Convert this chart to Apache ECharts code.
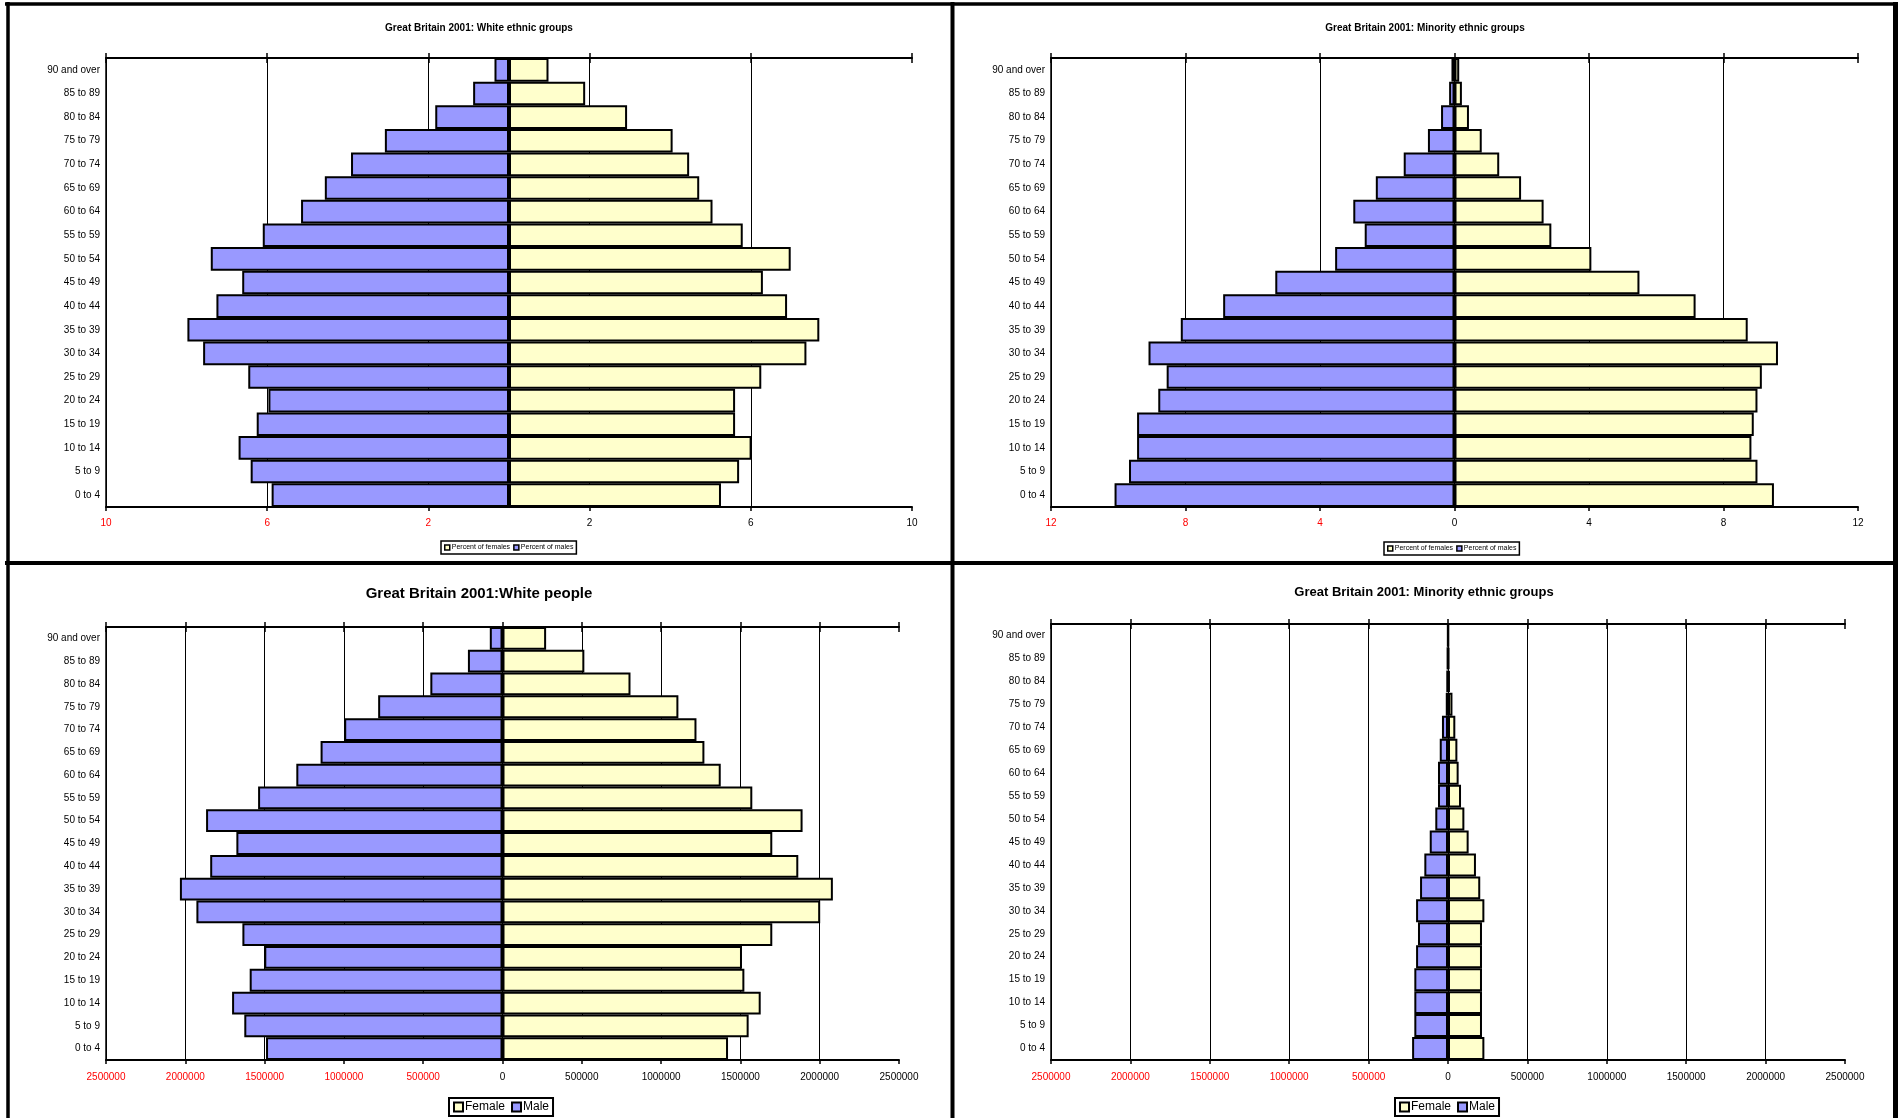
<!DOCTYPE html>
<html>
<head>
<meta charset="utf-8">
<title>Great Britain 2001: population pyramids</title>
<script src="https://cdn.jsdelivr.net/npm/echarts@6.0.0/dist/echarts.min.js"></script>
<style>
  html, body { margin: 0; padding: 0; background: #ffffff; }
  #main { width: 1898px; height: 1118px; }
</style>
</head>
<body>
<div id="main"></div>
<script>
// Age bands, youngest first (drawn bottom to top)
const ageGroups = ['0 to 4', '5 to 9', '10 to 14', '15 to 19', '20 to 24', '25 to 29',
  '30 to 34', '35 to 39', '40 to 44', '45 to 49', '50 to 54', '55 to 59', '60 to 64',
  '65 to 69', '70 to 74', '75 to 79', '80 to 84', '85 to 89', '90 and over'];

// White ethnic groups, percent of each sex
const whitePctMale   = [5.89, 6.41, 6.71, 6.26, 5.97, 6.47, 7.59, 7.98, 7.26, 6.62, 7.40, 6.11, 5.16, 4.57, 3.92, 3.08, 1.83, 0.89, 0.36];
const whitePctFemale = [5.26, 5.71, 6.02, 5.61, 5.61, 6.26, 7.38, 7.70, 6.90, 6.30, 6.99, 5.80, 5.05, 4.72, 4.47, 4.06, 2.93, 1.89, 0.98];

// Minority ethnic groups, percent of each sex
const minorityPctMale   = [10.11, 9.68, 9.44, 9.44, 8.81, 8.56, 9.10, 8.14, 6.88, 5.33, 3.55, 2.67, 3.01, 2.34, 1.51, 0.79, 0.40, 0.16, 0.09];
const minorityPctFemale = [9.50, 9.01, 8.83, 8.90, 9.01, 9.14, 9.62, 8.72, 7.17, 5.50, 4.07, 2.88, 2.65, 1.98, 1.33, 0.81, 0.43, 0.22, 0.14];

// White people, head counts
const whiteMale   = [1491000, 1628000, 1705000, 1594000, 1502000, 1640000, 1930000, 2034000, 1843000, 1678000, 1869000, 1541000, 1300000, 1147000, 998000, 784000, 455000, 218000, 80000];
const whiteFemale = [1422000, 1552000, 1628000, 1525000, 1510000, 1701000, 2003000, 2083000, 1865000, 1701000, 1892000, 1575000, 1376000, 1273000, 1223000, 1109000, 807000, 516000, 275000];

// Minority ethnic groups, head counts
const minorityMale   = [226000, 212000, 212000, 212000, 201000, 189000, 201000, 176000, 149000, 115000, 80000, 63000, 63000, 52000, 38000, 14000, 9000, 5000, 2000];
const minorityFemale = [229000, 214000, 214000, 214000, 214000, 214000, 229000, 203000, 176000, 130000, 103000, 82000, 67000, 59000, 46000, 28000, 12000, 7000, 4000];

// Axis scales: [min, max, interval]
const pctWhiteScale = [-10, 10, 4];
const pctMinorityScale = [-12, 12, 4];
const countScale = [-2500000, 2500000, 500000];

const FONT = "'Liberation Sans', Arial, Helvetica, sans-serif";
const MALE_FILL = '#9999FF';
const FEMALE_FILL = '#FFFFCC';

const panels = [
  {
    title: 'Great Britain 2001: White ethnic groups', tx: 479, ty: 23, tsize: 10,
    grid: { left: 106, top: 58, width: 806, height: 449 },
    scale: pctWhiteScale, male: whitePctMale, female: whitePctFemale,
    maleName: 'Percent of males', femaleName: 'Percent of females',
    labelMargin: 11,
    legend: { left: 441, top: 541, font: 7, icon: 5, gap: 3, pad: [3, 3], border: 1.5, iconBorder: 1.5 }
  },
  {
    title: 'Great Britain 2001: Minority ethnic groups', tx: 1425, ty: 23, tsize: 10,
    grid: { left: 1051, top: 58, width: 807, height: 449 },
    scale: pctMinorityScale, male: minorityPctMale, female: minorityPctFemale,
    maleName: 'Percent of males', femaleName: 'Percent of females',
    labelMargin: 11,
    legend: { left: 1384, top: 542, font: 7, icon: 5, gap: 3, pad: [3, 3], border: 1.5, iconBorder: 1.5 }
  },
  {
    title: 'Great Britain 2001:White people', tx: 479, ty: 586, tsize: 15,
    grid: { left: 106, top: 627, width: 793, height: 433 },
    scale: countScale, male: whiteMale, female: whiteFemale,
    maleName: 'Male', femaleName: 'Female',
    labelMargin: 12,
    legend: { left: 449, top: 1098, font: 12, icon: 9, gap: 6, pad: [3, 4], border: 2, iconBorder: 2 }
  },
  {
    title: 'Great Britain 2001: Minority ethnic groups', tx: 1424, ty: 586, tsize: 13,
    grid: { left: 1051, top: 624, width: 794, height: 436 },
    scale: countScale, male: minorityMale, female: minorityFemale,
    maleName: 'Male', femaleName: 'Female',
    labelMargin: 12,
    legend: { left: 1395, top: 1098, font: 12, icon: 9, gap: 6, pad: [3, 4], border: 2, iconBorder: 2 }
  }
];

// Negative tick values are printed in red, without the minus sign
const tickColor = v => (parseFloat(String(v)) < 0 ? '#FF0000' : '#000000');
const tickText = v => String(Math.abs(v));

const option = {
  animation: false,
  backgroundColor: '#ffffff',
  title: [], grid: [], xAxis: [], yAxis: [], series: [], legend: [],
  graphic: []
};

panels.forEach((p, i) => {
  const [mn, mx, step] = p.scale;

  option.title.push({
    text: p.title, left: p.tx, top: p.ty, textAlign: 'center', textVerticalAlign: 'top',
    padding: 0,
    textStyle: { fontFamily: FONT, fontSize: p.tsize, fontWeight: 'bold', color: '#000' }
  });

  option.grid.push(Object.assign({ containLabel: false, outerBoundsMode: 'none' }, p.grid));

  // bottom axis with labels and gridlines
  option.xAxis.push({
    type: 'value', gridIndex: i, position: 'bottom', min: mn, max: mx, interval: step,
    axisLine: { show: true, onZero: false, lineStyle: { color: '#000', width: 2 } },
    axisTick: { show: true, inside: false, length: 4, lineStyle: { color: '#000', width: 1.5 } },
    axisLabel: {
      show: true, formatter: tickText, color: tickColor, fontFamily: FONT, fontSize: 10,
      margin: p.labelMargin, showMinLabel: true, showMaxLabel: true
    },
    splitLine: { show: true, showMinLine: true, showMaxLine: false, lineStyle: { color: '#000', width: 1 } }
  });
  // top axis: outward half of the crossing ticks
  option.xAxis.push({
    type: 'value', gridIndex: i, position: 'top', min: mn, max: mx, interval: step,
    axisLine: { show: true, onZero: false, lineStyle: { color: '#000', width: 2 } },
    axisTick: { show: true, inside: false, length: 5, lineStyle: { color: '#000', width: 1.5 } },
    axisLabel: { show: false }, splitLine: { show: false }
  });
  // top axis: inward half of the crossing ticks
  option.xAxis.push({
    type: 'value', gridIndex: i, position: 'top', min: mn, max: mx, interval: step,
    axisLine: { show: false, onZero: false },
    axisTick: { show: true, inside: true, length: 5, lineStyle: { color: '#000', width: 1.5 } },
    axisLabel: { show: false }, splitLine: { show: false }
  });

  option.yAxis.push({
    type: 'category', gridIndex: i, data: ageGroups, boundaryGap: true,
    axisLine: { show: true, onZero: false, lineStyle: { color: '#000', width: 1.5 } },
    axisTick: { show: false },
    axisLabel: { interval: 0, fontFamily: FONT, fontSize: 10, color: '#000', margin: 6 },
    splitLine: { show: false }
  });

  const barStyle = fill => ({ color: fill, borderColor: '#000', borderWidth: 2 });

  option.series.push({
    type: 'bar', name: p.maleName, xAxisIndex: i * 3, yAxisIndex: i,
    data: p.male.map(v => -v),
    barGap: '-100%', barCategoryGap: '0%',
    itemStyle: barStyle(MALE_FILL),
    emphasis: { disabled: true }, silent: true
  });
  option.series.push({
    type: 'bar', name: p.femaleName, xAxisIndex: i * 3, yAxisIndex: i,
    data: p.female.slice(),
    barGap: '-100%', barCategoryGap: '0%',
    itemStyle: barStyle(FEMALE_FILL),
    emphasis: { disabled: true }, silent: true
  });

  const L = p.legend;
  option.legend.push({
    left: L.left, top: L.top, orient: 'horizontal',
    data: [p.femaleName, p.maleName],
    icon: 'rect', itemWidth: L.icon, itemHeight: L.icon, itemGap: L.gap,
    padding: L.pad, borderColor: '#000', borderWidth: L.border, backgroundColor: '#fff',
    selectedMode: false,
    itemStyle: { borderColor: '#000', borderWidth: L.iconBorder },
    textStyle: { fontFamily: FONT, fontSize: L.font, color: '#000', padding: [0, 0, 0, -3] }
  });
});

// panel frames
const frameLine = (x1, y1, x2, y2, w) => ({
  type: 'line', z: 100, silent: true,
  shape: { x1, y1, x2, y2 },
  style: { stroke: '#000', lineWidth: w }
});
option.graphic = [
  frameLine(5, 4, 1898, 4, 3.5),
  frameLine(8, 2, 8, 1118, 3.5),
  frameLine(952.5, 2, 952.5, 1118, 4),
  frameLine(1895.5, 2, 1895.5, 1118, 5),
  frameLine(5, 563, 1898, 563, 4)
];

const chart = echarts.init(document.getElementById('main'), null, { renderer: 'canvas' });
chart.setOption(option);
</script>
</body>
</html>
